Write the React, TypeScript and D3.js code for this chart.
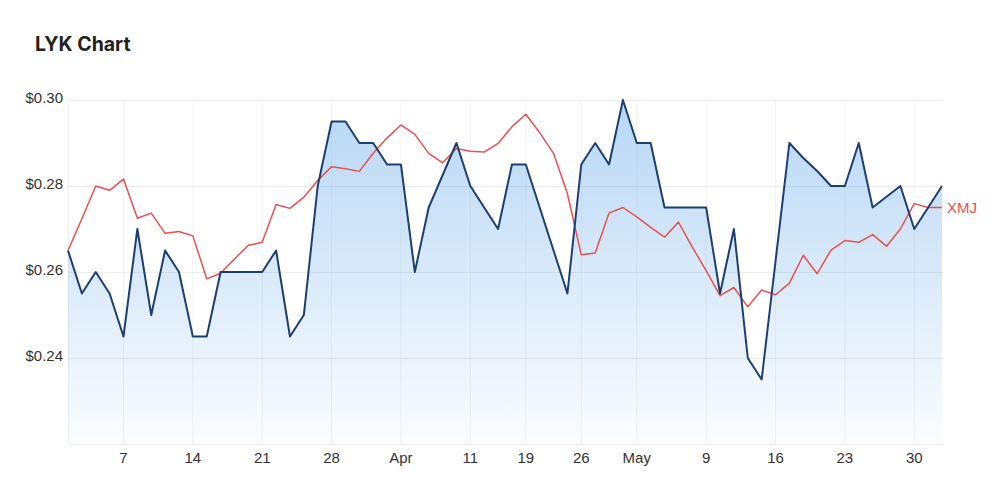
import { useEffect, useRef } from 'react'
import * as d3 from 'd3'

const WIDTH = 1000
const HEIGHT = 503
const MARGIN = { top: 100, right: 57, bottom: 59, left: 68 }

// ASX trading days, Mar 1 – Jun 1 2022
const dates = [
  '2022-03-01', '2022-03-02', '2022-03-03', '2022-03-04', '2022-03-07', '2022-03-08', '2022-03-09', '2022-03-10',
  '2022-03-11', '2022-03-14', '2022-03-15', '2022-03-16', '2022-03-17', '2022-03-18', '2022-03-21', '2022-03-22',
  '2022-03-23', '2022-03-24', '2022-03-25', '2022-03-28', '2022-03-29', '2022-03-30', '2022-03-31',
  '2022-04-01', '2022-04-04', '2022-04-05', '2022-04-06', '2022-04-07', '2022-04-08', '2022-04-11', '2022-04-12',
  '2022-04-13', '2022-04-14', '2022-04-19', '2022-04-20', '2022-04-21', '2022-04-22', '2022-04-26', '2022-04-27',
  '2022-04-28', '2022-04-29',
  '2022-05-02', '2022-05-03', '2022-05-04', '2022-05-05', '2022-05-06', '2022-05-09', '2022-05-10', '2022-05-11',
  '2022-05-12', '2022-05-13', '2022-05-16', '2022-05-17', '2022-05-18', '2022-05-19', '2022-05-20', '2022-05-23',
  '2022-05-24', '2022-05-25', '2022-05-26', '2022-05-27', '2022-05-30', '2022-05-31',
  '2022-06-01',
]

const lykPrices = [
  0.265, 0.255, 0.26, 0.255, 0.245, 0.27, 0.25, 0.265, 0.26, 0.245,
  0.245, 0.26, 0.26, 0.26, 0.26, 0.265, 0.245, 0.25, 0.28, 0.295,
  0.295, 0.29, 0.29, 0.285, 0.285, 0.26, 0.275, 0.2825, 0.29, 0.28,
  0.275, 0.27, 0.285, 0.285, 0.275, 0.265, 0.255, 0.285, 0.29, 0.285,
  0.30, 0.29, 0.29, 0.275, 0.275, 0.275, 0.275, 0.255, 0.27, 0.24,
  0.235, 0.2625, 0.29, 0.2865, 0.2835, 0.28, 0.28, 0.29, 0.275, 0.2775,
  0.28, 0.27, 0.275, 0.28,
]

// XMJ index rebased to LYK's starting price
const xmjRebased = [
  0.265, 0.2724, 0.28, 0.279, 0.2816, 0.2725, 0.2737, 0.269, 0.2694, 0.2684,
  0.2584, 0.2597, 0.263, 0.2662, 0.2669, 0.2757, 0.2748, 0.2774, 0.2813, 0.2845,
  0.284, 0.2834, 0.2876, 0.2912, 0.2942, 0.292, 0.2876, 0.2854, 0.2887, 0.2881,
  0.2879, 0.2899, 0.2938, 0.2967, 0.2924, 0.2876, 0.2782, 0.264, 0.2644, 0.2737,
  0.275, 0.2728, 0.2704, 0.2681, 0.2716, 0.2658, 0.2603, 0.2545, 0.2564, 0.2519,
  0.2558, 0.2547, 0.2574, 0.2639, 0.2596, 0.2651, 0.2673, 0.2669, 0.2687, 0.266,
  0.27, 0.2759, 0.275, 0.275,
]

const xTickDates = [
  '2022-03-07', '2022-03-14', '2022-03-21', '2022-03-28', '2022-04-04', '2022-04-11', '2022-04-19',
  '2022-04-26', '2022-05-02', '2022-05-09', '2022-05-16', '2022-05-23', '2022-05-30',
]
const xTickLabels = ['7', '14', '21', '28', 'Apr', '11', '19', '26', 'May', '9', '16', '23', '30']
const yTicks = [0.24, 0.26, 0.28, 0.30]
const yDomain = [0.22, 0.30]

const NAVY = '#1c3f72'
const RED = '#e8504e'
const GRID = '#ececec'
const FONT = '"Liberation Sans", Arial, sans-serif'

export default function App() {
  const svgRef = useRef<SVGSVGElement>(null)

  useEffect(() => {
    const svgEl = svgRef.current
    if (!svgEl) return
    const svg = d3.select(svgEl)
    svg.selectAll('*').remove()

    const innerRight = WIDTH - MARGIN.right
    const innerBottom = HEIGHT - MARGIN.bottom

    // ── Scales ─────────────────────────────────────────────────────────────
    const x = d3.scaleLinear([0, dates.length - 1], [MARGIN.left, innerRight - 1])
    const y = d3.scaleLinear(yDomain, [innerBottom, MARGIN.top])
    const xPos = (d: string) => x(dates.indexOf(d))

    // ── Gradient ───────────────────────────────────────────────────────────
    const grad = svg.append('defs').append('linearGradient')
      .attr('id', 'lykFill').attr('x1', 0).attr('x2', 0).attr('y1', 0).attr('y2', 1)
    grad.append('stop').attr('offset', '0%').attr('stop-color', '#7cb5ec').attr('stop-opacity', 0.55)
    grad.append('stop').attr('offset', '100%').attr('stop-color', '#7cb5ec').attr('stop-opacity', 0.03)

    // ── Title ──────────────────────────────────────────────────────────────
    svg.append('text')
      .attr('x', 35).attr('y', 51)
      .attr('font-family', 'Inter, "Open Sans", sans-serif').attr('font-weight', 700)
      .attr('font-size', 19.5).attr('fill', '#222')
      .text('LYK Chart')

    // ── Grid ───────────────────────────────────────────────────────────────
    const grid = svg.append('g')
    xTickDates.forEach(d => {
      grid.append('line')
        .attr('x1', xPos(d)).attr('x2', xPos(d))
        .attr('y1', MARGIN.top).attr('y2', innerBottom)
        .attr('stroke', '#f2f2f2').attr('stroke-width', 1)
    })
    ;[yDomain[0], ...yTicks].forEach(v => {
      grid.append('line')
        .attr('x1', MARGIN.left).attr('x2', innerRight)
        .attr('y1', Math.round(y(v)) + 0.5).attr('y2', Math.round(y(v)) + 0.5)
        .attr('stroke', GRID).attr('stroke-width', 1)
    })
    grid.append('line')
      .attr('x1', MARGIN.left + 0.5).attr('x2', MARGIN.left + 0.5)
      .attr('y1', MARGIN.top).attr('y2', innerBottom)
      .attr('stroke', '#f0f0f0')

    // ── Area + lines ───────────────────────────────────────────────────────
    const area = d3.area<number>()
      .x((_, i) => x(i)).y0(innerBottom).y1(d => y(d))
    svg.append('path')
      .attr('d', area(lykPrices) ?? '')
      .attr('fill', 'url(#lykFill)')

    const line = d3.line<number>().x((_, i) => x(i)).y(d => y(d))

    svg.append('path')
      .attr('d', line(xmjRebased) ?? '')
      .attr('fill', 'none').attr('stroke', RED).attr('stroke-width', 1.5)
      .attr('stroke-linejoin', 'round')

    svg.append('path')
      .attr('d', line(lykPrices) ?? '')
      .attr('fill', 'none').attr('stroke', NAVY).attr('stroke-width', 2)
      .attr('stroke-linejoin', 'round')

    // XMJ series label
    const lastXmj = xmjRebased[xmjRebased.length - 1]
    svg.append('text')
      .attr('x', x(dates.length - 1) + 5).attr('y', y(lastXmj) + 5)
      .attr('font-family', FONT).attr('font-size', 15).attr('fill', RED)
      .text('XMJ')

    // ── Axes labels ────────────────────────────────────────────────────────
    yTicks.forEach(v => {
      svg.append('text')
        .attr('x', 63).attr('y', y(v) + 3)
        .attr('text-anchor', 'end').attr('font-family', FONT)
        .attr('font-size', 15).attr('fill', '#333')
        .text(d3.format('$.2f')(v))
    })

    xTickDates.forEach((d, i) => {
      svg.append('text')
        .attr('x', xPos(d)).attr('y', 463)
        .attr('text-anchor', 'middle').attr('font-family', FONT)
        .attr('font-size', 15).attr('fill', '#333')
        .text(xTickLabels[i])
    })
  }, [])

  return (
    <div style={{ position: 'absolute', left: 0, top: 0, width: WIDTH, height: HEIGHT, background: '#fff' }}>
      <svg ref={svgRef} width={WIDTH} height={HEIGHT} />
    </div>
  )
}
